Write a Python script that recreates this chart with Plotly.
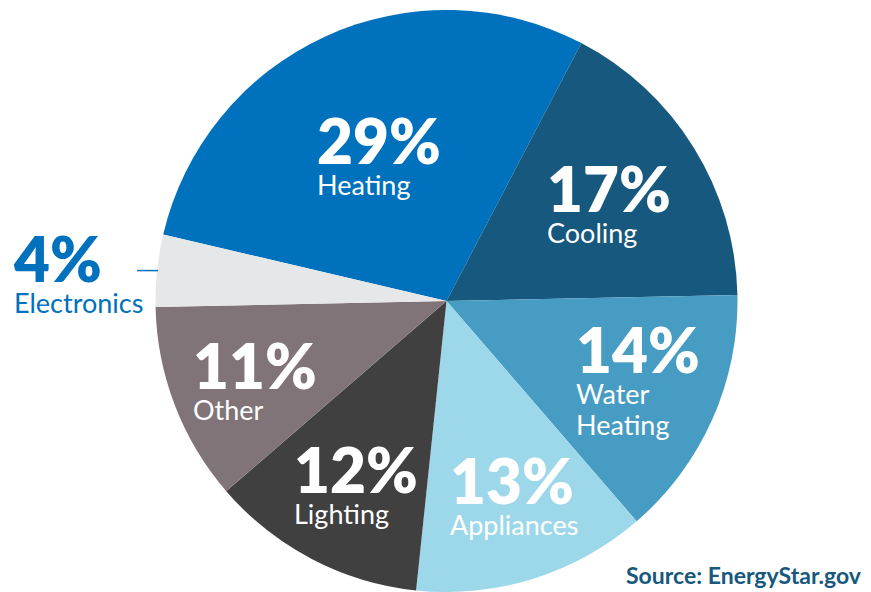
import math
import plotly.graph_objects as go

categories = ["Heating", "Cooling", "Water Heating", "Appliances", "Lighting", "Other", "Electronics"]
label_lines = ["Heating", "Cooling", "Water<br>Heating", "Appliances", "Lighting", "Other", "Electronics"]
values = [29, 17, 14, 13, 12, 11, 4]
colors = ["#0071BC", "#17587E", "#479CC3", "#9DD7EA", "#404041", "#807479", "#E6E7E8"]

OFF = 8  # page body margin
W, H = 871 - OFF, 592 - OFF
CX, CY, R = 446.5 - OFF, 301 - OFF, 291
ROT = 283.2
label_r = [0.545, 0.638, 0.70, 0.716, 0.716, 0.734, 1.275]
nudge = [(-1, -5), (5, -3), (5, -7), (5, -8), (6, -5), (8, -1), (0, 8)]

fig = go.Figure(go.Pie(
    labels=categories, values=values, sort=False, direction="clockwise",
    rotation=ROT, marker=dict(colors=colors, line=dict(width=0)),
    textinfo="none", hoverinfo="label+value", showlegend=False,
    domain=dict(x=[(CX - R) / W, (CX + R) / W], y=[max(0, 1 - (CY + R) / H), 1 - (CY - R) / H]),
))

total = sum(values)
cum = 0
annotations = []
shapes = []
for i, v in enumerate(values):
    mid = math.radians(ROT + 360 * (cum + v / 2) / total)
    cum += v
    dx, dy = math.sin(mid), -math.cos(mid)
    px = CX + dx * R * label_r[i] + nudge[i][0]
    py = CY + dy * R * label_r[i] + nudge[i][1]
    outside = label_r[i] > 1
    col = colors[0] if outside else "white"
    annotations.append(dict(
        x=px / W, y=1 - py / H, xref="paper", yref="paper",
        xanchor="center", yanchor="middle", align="left", showarrow=False,
        text=(f"<span style='font-size:62px;font-weight:800'>{v}%</span><br>"
              f"<span style='font-size:27px'>{label_lines[i]}</span>"),
        font=dict(family="Lato", size=24, color=col),
    ))
    if outside:
        ex, ey = CX + dx * R, CY + dy * R
        shapes.append(dict(type="line", xref="paper", yref="paper",
                           x0=(ex + 1) / W, x1=(ex - 20) / W, y0=1 - ey / H, y1=1 - ey / H,
                           line=dict(color=colors[0], width=1.5)))

annotations.append(dict(
    x=(864 - OFF) / W, y=(592 - 591) / H, xref="paper", yref="paper", xanchor="right", yanchor="bottom",
    showarrow=False, text="<b>Source: EnergyStar.gov</b>",
    font=dict(family="Lato", size=23, color="#17587E"),
))

fig.update_layout(
    width=W, height=H, margin=dict(l=0, r=0, t=0, b=0),
    paper_bgcolor="white", plot_bgcolor="white",
    annotations=annotations, shapes=shapes,
)
fig.write_html("out.html")
